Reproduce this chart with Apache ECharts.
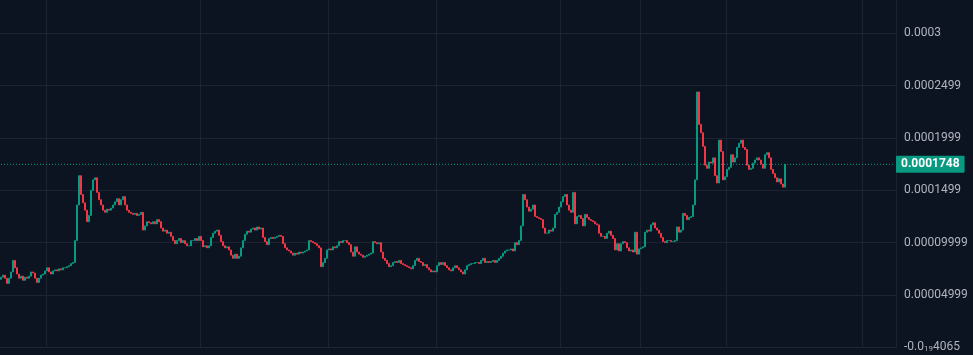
<!DOCTYPE html>
<html><head><meta charset="utf-8">
<script src="https://cdn.jsdelivr.net/npm/echarts@6/dist/echarts.min.js"></script>
<style>html,body{margin:0;padding:0;background:#0c1321;}#c{width:973px;height:355px;}</style>
</head><body><div id="c"></div>
<script>
// Close prices in units of 1e-6 (each candle opens at the previous close)
const closesE6 = [
67,69,66,61,66,72,83,76,70,66,68,64,67,66,68,72,71,66,62,66,69,70,73,76,72,70,73,74,73,75,74,76,76,77,78,80,81,
102,136,164,146,138,131,120,126,150,160,162,148,141,136,131,129,132,131,133,136,139,142,136,141,144,136,131,129,128,127,128,126,127,129,112,116,120,119,118,120,118,122,120,114,111,112,109,110,106,102,99,102,104,100,102,99,97,97,102,102,104,102,106,
102,96,97,95,97,105,109,111,112,107,101,97,95,96,93,88,85,89,85,87,95,102,108,111,110,113,114,112,115,113,114,105,101,98,104,105,104,105,106,107,106,99,95,93,92,90,88,90,89,91,
90,91,92,93,102,101,100,99,97,95,77,81,85,93,94,93,96,95,97,101,100,102,102,100,98,91,87,96,91,89,88,86,87,88,89,90,101,100,99,100,91,85,83,80,77,78,81,82,81,83,
80,79,78,77,76,75,78,83,85,82,81,78,79,76,74,72,73,72,78,81,79,81,78,76,74,73,76,78,76,74,72,70,74,78,79,80,80,81,81,80,83,85,81,82,81,82,83,81,83,85,
87,90,92,93,93,94,92,100,98,102,116,146,141,134,130,132,136,125,124,123,122,114,109,109,112,111,114,127,129,134,139,144,146,136,131,129,148,118,125,126,123,116,127,124,122,121,120,118,117,109,
106,106,104,109,111,107,104,93,99,92,99,101,100,95,92,93,91,110,89,94,95,96,110,112,111,117,119,114,112,109,105,101,100,102,102,101,101,102,115,110,112,128,126,122,124,125,136,160,244,213,205,192,174,171,177,176,181,164,157,198,187,160,163,170,172,184,177,181,191,195,198,191,189,174,170,171,176,179,181,179,175,171,184,186,181,170,166,162,158,161,156,153,174.8
];
const firstOpenE6 = 65;
const totalSlots = 448;
const timeGridIdx = [23, 100, 164, 218, 280, 320, 363, 431];
const yMax = 0.00033184;
const yTickLabels = ['-0.0{s|19}4065', '0.00004999', '0.00009999', '0.0001499', '0.0001999', '0.0002499', '0.0003'];
const lastPrice = 0.0001748;
const lastPriceLabel = '0.0001748';

const UP = '#089981', DOWN = '#f23645';
const categories = Array.from({length: totalSlots}, (_, i) => String(i));
const ohlc = closesE6.map((c, i) => {
  const o = i === 0 ? firstOpenE6 : closesE6[i - 1];
  const oo = o * 1e-6, cc = c * 1e-6;
  return [oo, cc, Math.min(oo, cc), Math.max(oo, cc)];
});
const lastPriceLine = categories.map(() => lastPrice);

const chart = echarts.init(document.getElementById('c'), null, {renderer: 'canvas'});
chart.setOption({
  backgroundColor: '#0c1321',
  animation: false,
  grid: {left: 0, right: 77, top: 0, bottom: 7.7},
  xAxis: {
    type: 'category', data: categories, boundaryGap: true,
    axisLine: {show: false}, axisTick: {show: false}, axisLabel: {show: false},
    splitLine: {show: true, interval: (i) => timeGridIdx.includes(i), lineStyle: {color: '#1d2331', width: 1}}
  },
  yAxis: {
    type: 'value', position: 'right', min: 0, max: yMax, interval: 0.00005, scale: false,
    axisLine: {show: false}, axisTick: {show: false},
    splitLine: {show: true, showMaxLine: false, lineStyle: {color: '#1d2331', width: 1}},
    axisLabel: {
      color: '#b2b5be', fontSize: 12, fontFamily: 'Roboto, sans-serif', margin: 8,
      showMaxLabel: false,
      formatter: (v) => {
        const k = v / 0.00005;
        if (Math.abs(k - Math.round(k)) > 1e-6) return '';
        return yTickLabels[Math.round(k)] || '';
      },
      rich: {s: {fontSize: 8, color: '#b2b5be', fontFamily: 'Roboto, sans-serif', verticalAlign: 'bottom', padding: [4, 0, 0, 0]}}
    }
  },
  series: [{
    type: 'candlestick', data: ohlc, large: false, progressive: 0,
    barWidth: 1.6,
    itemStyle: {color: UP, color0: DOWN, borderColor: UP, borderColor0: DOWN, borderWidth: 1}
  }, {
    type: 'line', data: lastPriceLine, symbol: 'none', silent: true, z: 1,
    lineStyle: {color: UP, type: [1, 2], width: 1},
    endLabel: {
      show: true, distance: 1, formatter: lastPriceLabel,
      backgroundColor: UP, color: '#ffffff', fontSize: 12, fontWeight: 'bold',
      fontFamily: 'Roboto, sans-serif', padding: [3, 5, 2, 5], borderRadius: 1
    }
  }]
});
</script></body></html>
